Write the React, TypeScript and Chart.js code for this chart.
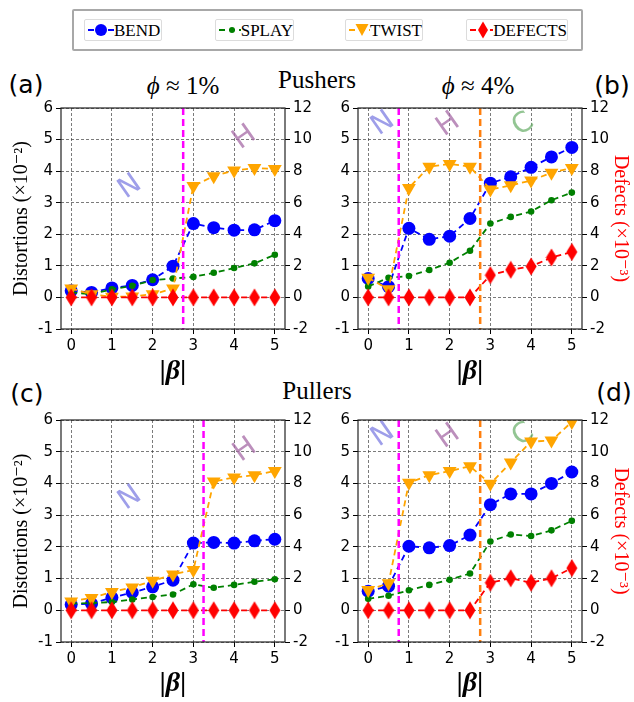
import React, { useEffect, useRef } from 'react';
import { Chart, registerables } from 'chart.js';
Chart.register(...registerables);

// ---------- data ----------
const betaValues = [0, 0.5, 1, 1.5, 2, 2.5, 3, 3.5, 4, 4.5, 5];
const xTicks = [0, 1, 2, 3, 4, 5];
const leftTicks = [-1, 0, 1, 2, 3, 4, 5, 6];
const rightTicks = [-2, 0, 2, 4, 6, 8, 10, 12];

// (a) Pushers, phi ~ 1%
const bendA = [0.21, 0.16, 0.3, 0.38, 0.56, 0.99, 2.34, 2.21, 2.13, 2.14, 2.43];
const splayA = [0.16, 0.1, 0.26, 0.37, 0.55, 0.6, 0.65, 0.78, 0.93, 1.08, 1.35];
const twistA = [0.28, 0.1, 0.02, 0.03, 0.1, 0.28, 3.53, 3.84, 4.02, 4.1, 4.07];
const defectsA = [0, 0, 0, 0, 0, 0, 0, 0, 0, 0, 0];

// (b) Pushers, phi ~ 4%
const bendB = [0.6, 0.34, 2.19, 1.84, 1.94, 2.5, 3.62, 3.82, 4.12, 4.45, 4.75];
const splayB = [0.35, 0.62, 0.68, 0.87, 1.1, 1.48, 2.34, 2.55, 2.72, 3.08, 3.32];
const twistB = [0.62, 0.26, 3.47, 4.14, 4.23, 4.14, 3.42, 3.55, 3.7, 3.95, 4.1];
const defectsB = [0, 0, 0, 0, 0, 0, 1.41, 1.75, 1.96, 2.53, 2.88];

// (c) Pullers, phi ~ 1%
const bendC = [0.18, 0.21, 0.4, 0.56, 0.74, 0.95, 2.12, 2.14, 2.12, 2.19, 2.24];
const splayC = [0.21, 0.23, 0.26, 0.34, 0.42, 0.5, 0.82, 0.71, 0.8, 0.9, 0.98];
const twistC = [0.28, 0.39, 0.58, 0.72, 0.93, 1.13, 1.27, 4.06, 4.19, 4.26, 4.39];
const defectsC = [0, 0, 0, 0, 0, 0, 0, 0, 0, 0, 0];

// (d) Pullers, phi ~ 4%
const bendD = [0.6, 0.76, 2.02, 1.97, 2.04, 2.37, 3.33, 3.67, 3.67, 4.0, 4.36];
const splayD = [0.36, 0.46, 0.63, 0.8, 0.96, 1.16, 2.17, 2.39, 2.34, 2.52, 2.82];
const twistD = [0.64, 0.85, 4.02, 4.26, 4.39, 4.54, 3.99, 4.66, 5.32, 5.35, 5.94];
const defectsD = [0, 0, 0, 0, 0, 0, 1.74, 2.02, 1.74, 2.02, 2.66];

// phase boundaries (|beta|)
const linesA = [{ x: 2.75, color: '#ff00ff' }];
const linesB = [{ x: 0.75, color: '#ff00ff' }, { x: 2.75, color: '#ff7f0e' }];
const linesC = [{ x: 3.25, color: '#ff00ff' }];
const linesD = [{ x: 0.75, color: '#ff00ff' }, { x: 2.75, color: '#ff7f0e' }];

// phase labels
const N_COLOR = 'rgba(120,120,225,0.72)';
const H_COLOR = 'rgba(165,105,165,0.75)';
const C_COLOR = 'rgba(105,175,105,0.72)';
const phasesA = [{ t: 'N', x: 1.45, y: 3.5, c: N_COLOR }, { t: 'H', x: 4.26, y: 5.06, c: H_COLOR }];
const phasesB = [{ t: 'N', x: 0.37, y: 5.5, c: N_COLOR }, { t: 'H', x: 1.97, y: 5.47, c: H_COLOR }, { t: 'C', x: 3.81, y: 5.47, c: C_COLOR }];
const phasesC = [{ t: 'N', x: 1.45, y: 3.53, c: N_COLOR }, { t: 'H', x: 4.27, y: 5.05, c: H_COLOR }];
const phasesD = [{ t: 'N', x: 0.37, y: 5.53, c: N_COLOR }, { t: 'H', x: 1.97, y: 5.47, c: H_COLOR }, { t: 'C', x: 3.81, y: 5.53, c: C_COLOR }];

const SERIF = '"Liberation Serif", "DejaVu Serif", serif';
const SANS = '"DejaVu Sans", sans-serif';

function pts(vals: number[]) {
  return betaValues.map((b, i) => ({ x: b, y: vals[i] }));
}

function makeDiamond(): HTMLCanvasElement {
  const c = document.createElement('canvas');
  c.width = 12;
  c.height = 19;
  const g = c.getContext('2d')!;
  g.fillStyle = '#ff0000';
  g.beginPath();
  g.moveTo(6, 0.5);
  g.lineTo(11.5, 9.5);
  g.lineTo(6, 18.5);
  g.lineTo(0.5, 9.5);
  g.closePath();
  g.fill();
  return c;
}

const decorPlugin = {
  id: 'panelDecor',
  beforeDatasetsDraw(chart: any, _args: any, opts: any) {
    const { ctx, scales } = chart;
    ctx.save();
    ctx.font = `28px ${SANS}`;
    ctx.textAlign = 'center';
    ctx.textBaseline = 'middle';
    for (const p of opts.phases || []) {
      const px = scales.x.getPixelForValue(p.x);
      const py = scales.y.getPixelForValue(p.y);
      ctx.save();
      ctx.translate(px, py);
      ctx.rotate((-35 * Math.PI) / 180);
      ctx.fillStyle = p.c;
      ctx.fillText(p.t, 0, 0);
      ctx.restore();
    }
    ctx.restore();
  },
  afterDatasetsDraw(chart: any, _args: any, opts: any) {
    const { ctx, chartArea: a, scales } = chart;
    ctx.save();
    ctx.lineWidth = 2.5;
    ctx.setLineDash([7, 4]);
    for (const l of opts.vlines || []) {
      const px = scales.x.getPixelForValue(l.x);
      ctx.strokeStyle = l.color;
      ctx.beginPath();
      ctx.moveTo(px, a.top);
      ctx.lineTo(px, a.bottom);
      ctx.stroke();
    }
    ctx.setLineDash([]);
    ctx.lineWidth = 1.2;
    ctx.strokeStyle = '#222';
    ctx.strokeRect(a.left, a.top, a.right - a.left, a.bottom - a.top);
    ctx.restore();
  },
};

type PanelProps = {
  left: number;
  top: number;
  width: number;
  height: number;
  xAxisH: number;
  xTitlePad: number;
  rightW: number;
  leftTitle: boolean;
  rightTitle: boolean;
  bend: number[];
  splay: number[];
  twist: number[];
  defects: number[];
  vlines: { x: number; color: string }[];
  phases: { t: string; x: number; y: number; c: string }[];
};

function Panel(p: PanelProps) {
  const ref = useRef<HTMLCanvasElement>(null);
  useEffect(() => {
    if (!ref.current) return;
    const diamond = makeDiamond();
    const dash = [6, 4];
    const gridCol = 'rgba(60,60,60,0.85)';
    const tickFont = { family: SANS, size: 15 };
    const chart = new Chart(ref.current, {
      type: 'line',
      data: {
        datasets: [
          {
            label: 'BEND', data: pts(p.bend), yAxisID: 'y', order: 4,
            borderColor: '#0000ff', backgroundColor: '#0000ff', borderDash: dash, borderWidth: 1.8,
            pointStyle: 'circle', pointRadius: 6.5, pointBorderWidth: 0, pointBackgroundColor: '#0000ff',
          },
          {
            label: 'SPLAY', data: pts(p.splay), yAxisID: 'y', order: 3,
            borderColor: '#008000', backgroundColor: '#008000', borderDash: dash, borderWidth: 1.8,
            pointStyle: 'circle', pointRadius: 3.3, pointBorderWidth: 0, pointBackgroundColor: '#008000',
          },
          {
            label: 'TWIST', data: pts(p.twist), yAxisID: 'y', order: 2,
            borderColor: '#ffa500', backgroundColor: '#ffa500', borderDash: dash, borderWidth: 1.8,
            pointStyle: 'triangle', pointRotation: 180, pointRadius: 8, pointBorderWidth: 0, pointBackgroundColor: '#ffa500',
          },
          {
            label: 'DEFECTS', data: pts(p.defects), yAxisID: 'y1', order: 1,
            borderColor: '#ff0000', backgroundColor: '#ff0000', borderDash: dash, borderWidth: 1.8,
            pointStyle: diamond as any, pointRadius: 6, pointBorderWidth: 0,
          },
        ] as any,
      },
      options: {
        responsive: false,
        animation: false,
        devicePixelRatio: 1,
        layout: { padding: { top: 12, left: 0, right: 0, bottom: 0 } },
        plugins: {
          legend: { display: false },
          tooltip: { enabled: false },
          panelDecor: { vlines: p.vlines, phases: p.phases },
        } as any,
        scales: {
          x: {
            type: 'linear',
            min: -0.25,
            max: 5.25,
            afterBuildTicks: (s: any) => { s.ticks = xTicks.map((v) => ({ value: v })); },
            afterFit: (s: any) => { s.height = p.xAxisH; },
            ticks: { font: tickFont, color: '#000', padding: 3, maxRotation: 0 },
            grid: { color: gridCol, lineWidth: 0.8, tickLength: 5, tickColor: '#000', tickWidth: 1 },
            border: { display: false, dash: [3, 2] },
            title: {
              display: true, text: '|β|', color: '#000',
              font: { family: SERIF, size: 28, style: 'italic', weight: 'bold', lineHeight: 1 },
              padding: { top: 0, bottom: p.xTitlePad },
            },
          },
          y: {
            type: 'linear',
            position: 'left',
            min: -1,
            max: 6,
            afterBuildTicks: (s: any) => { s.ticks = leftTicks.map((v) => ({ value: v })); },
            afterFit: (s: any) => { s.width = 61; },
            ticks: { font: tickFont, color: '#000', padding: 3 },
            grid: { color: gridCol, lineWidth: 0.8, tickLength: 5, tickColor: '#000', tickWidth: 1 },
            border: { display: false, dash: [3, 2] },
            title: {
              display: p.leftTitle, text: 'Distortions (×10⁻²)', color: '#000',
              font: { family: SERIF, size: 20, lineHeight: 1 },
              padding: { top: 12, bottom: 0 },
            },
          },
          y1: {
            type: 'linear',
            position: 'right',
            min: -2,
            max: 12,
            afterBuildTicks: (s: any) => { s.ticks = rightTicks.map((v) => ({ value: v })); },
            afterFit: (s: any) => { s.width = p.rightW; },
            ticks: { font: tickFont, color: '#000', padding: 3 },
            grid: { drawOnChartArea: false, tickLength: 5, tickColor: '#000', tickWidth: 1 },
            border: { display: false },
            title: {
              display: p.rightTitle, text: 'Defects (×10⁻³)', color: '#ff0000',
              font: { family: SERIF, size: 20, lineHeight: 1 },
              padding: { top: 4, bottom: 0 },
            },
          },
        } as any,
      },
      plugins: [decorPlugin as any],
    });
    return () => chart.destroy();
  }, []);
  return (
    <canvas
      ref={ref}
      width={p.width}
      height={p.height}
      style={{ position: 'absolute', left: p.left, top: p.top, width: p.width, height: p.height }}
    />
  );
}

function Txt(props: { x: number; y: number; size: number; family: string; children: React.ReactNode; color?: string }) {
  return (
    <div
      style={{
        position: 'absolute', left: props.x, top: props.y, transform: 'translate(-50%, -50%)',
        fontSize: props.size, fontFamily: props.family, whiteSpace: 'nowrap', lineHeight: 1,
        color: props.color || '#000',
      }}
    >
      {props.children}
    </div>
  );
}

function LegendItem(props: { left: number; width: number; label: string; color: string; marker: string }) {
  const { color, marker } = props;
  let m: React.ReactNode = null;
  if (marker === 'circle') m = <circle cx={13} cy={10} r={6} fill={color} />;
  if (marker === 'small') m = <circle cx={13} cy={10} r={3} fill={color} />;
  if (marker === 'tri') m = <polygon points="6.5,4 19.5,4 13,16" fill={color} />;
  if (marker === 'diamond') m = <polygon points="13,1.5 18,10 13,18.5 8,10" fill={color} />;
  return (
    <div
      style={{
        position: 'absolute', left: props.left, top: 19, width: props.width, height: 20,
        border: '1px solid #dcdcdc', borderRadius: 2, background: '#fff', display: 'flex', alignItems: 'center',
      }}
    >
      <svg width={26} height={20} style={{ marginLeft: 3 }}>
        <line x1={0} y1={10} x2={26} y2={10} stroke={color} strokeWidth={2} strokeDasharray="6,4" />
        {m}
      </svg>
      <span style={{ fontFamily: SERIF, fontSize: 17, marginLeft: 0, lineHeight: 1 }}>{props.label}</span>
    </div>
  );
}

export default function App() {
  return (
    <div style={{ position: 'fixed', left: 0, top: 0, width: 634, height: 702, background: '#fff', overflow: 'hidden' }}>
      {/* legend */}
      <div
        style={{
          position: 'absolute', left: 72, top: 9, width: 507, height: 38,
          border: '2px solid #a8a8a8', borderRadius: 2, background: '#fff',
        }}
      />
      <LegendItem left={84} width={76} label="BEND" color="#0000ff" marker="circle" />
      <LegendItem left={215} width={77} label="SPLAY" color="#008000" marker="small" />
      <LegendItem left={345} width={76} label="TWIST" color="#ffa500" marker="tri" />
      <LegendItem left={466} width={100} label="DEFECTS" color="#ff0000" marker="diamond" />

      {/* panel titles */}
      <Txt x={26} y={84} size={25} family={SANS}>(a)</Txt>
      <Txt x={183} y={85} size={25} family={SERIF}><i>ϕ</i> ≈ 1%</Txt>
      <Txt x={317} y={79} size={25} family={SERIF}>Pushers</Txt>
      <Txt x={478} y={85} size={25} family={SERIF}><i>ϕ</i> ≈ 4%</Txt>
      <Txt x={612} y={85} size={25} family={SANS}>(b)</Txt>
      <Txt x={27} y={393} size={25} family={SANS}>(c)</Txt>
      <Txt x={317} y={390} size={25} family={SERIF}>Pullers</Txt>
      <Txt x={614} y={392} size={25} family={SANS}>(d)</Txt>

      <Panel left={0} top={96} width={317} height={300} xAxisH={67} xTitlePad={10} rightW={32}
        leftTitle={true} rightTitle={false}
        bend={bendA} splay={splayA} twist={twistA} defects={defectsA} vlines={linesA} phases={phasesA} />
      <Panel left={297} top={96} width={337} height={300} xAxisH={67} xTitlePad={10} rightW={52}
        leftTitle={false} rightTitle={true}
        bend={bendB} splay={splayB} twist={twistB} defects={defectsB} vlines={linesB} phases={phasesB} />
      <Panel left={0} top={408} width={317} height={290} xAxisH={56} xTitlePad={0} rightW={32}
        leftTitle={true} rightTitle={false}
        bend={bendC} splay={splayC} twist={twistC} defects={defectsC} vlines={linesC} phases={phasesC} />
      <Panel left={297} top={408} width={337} height={290} xAxisH={56} xTitlePad={0} rightW={52}
        leftTitle={false} rightTitle={true}
        bend={bendD} splay={splayD} twist={twistD} defects={defectsD} vlines={linesD} phases={phasesD} />
    </div>
  );
}
